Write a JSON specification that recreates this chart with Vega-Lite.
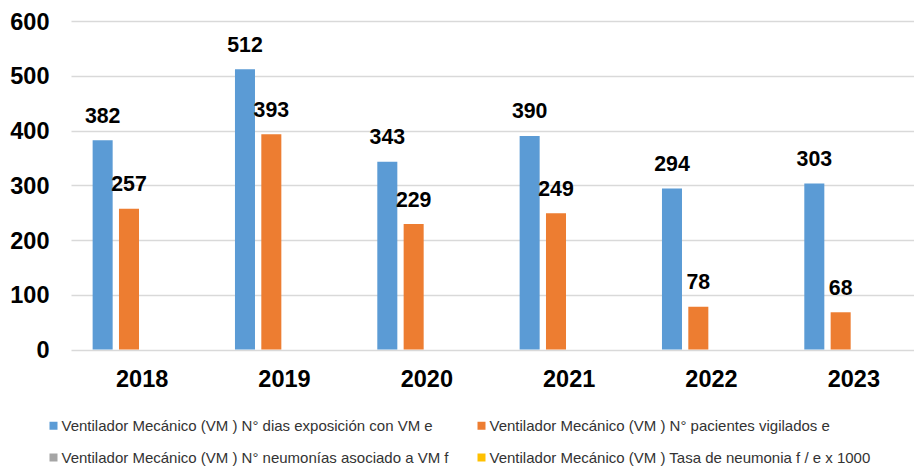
{
  "$schema": "https://vega.github.io/schema/vega-lite/v6.json",
  "autosize": {"type": "none"},
  "padding": {"left": 71, "top": 21, "right": 0, "bottom": 120.5},
  "width": 843,
  "height": 328.5,
  "config": {
    "view": {"stroke": null},
    "font": "Liberation Sans",
    "text": {"font": "Liberation Sans"}
  },
  "data": {
    "values": [
      {"anio": "2018", "serie": "Ventilador Mecánico (VM ) N° dias exposición con VM e", "valor": 382},
      {"anio": "2018", "serie": "Ventilador Mecánico (VM ) N° pacientes vigilados e", "valor": 257},
      {"anio": "2018", "serie": "Ventilador Mecánico (VM ) N° neumonías asociado a VM f", "valor": 0},
      {"anio": "2018", "serie": "Ventilador Mecánico (VM ) Tasa de neumonia f / e x 1000", "valor": 0},
      {"anio": "2019", "serie": "Ventilador Mecánico (VM ) N° dias exposición con VM e", "valor": 512},
      {"anio": "2019", "serie": "Ventilador Mecánico (VM ) N° pacientes vigilados e", "valor": 393},
      {"anio": "2019", "serie": "Ventilador Mecánico (VM ) N° neumonías asociado a VM f", "valor": 0},
      {"anio": "2019", "serie": "Ventilador Mecánico (VM ) Tasa de neumonia f / e x 1000", "valor": 0},
      {"anio": "2020", "serie": "Ventilador Mecánico (VM ) N° dias exposición con VM e", "valor": 343},
      {"anio": "2020", "serie": "Ventilador Mecánico (VM ) N° pacientes vigilados e", "valor": 229},
      {"anio": "2020", "serie": "Ventilador Mecánico (VM ) N° neumonías asociado a VM f", "valor": 0},
      {"anio": "2020", "serie": "Ventilador Mecánico (VM ) Tasa de neumonia f / e x 1000", "valor": 0},
      {"anio": "2021", "serie": "Ventilador Mecánico (VM ) N° dias exposición con VM e", "valor": 390},
      {"anio": "2021", "serie": "Ventilador Mecánico (VM ) N° pacientes vigilados e", "valor": 249},
      {"anio": "2021", "serie": "Ventilador Mecánico (VM ) N° neumonías asociado a VM f", "valor": 0},
      {"anio": "2021", "serie": "Ventilador Mecánico (VM ) Tasa de neumonia f / e x 1000", "valor": 0},
      {"anio": "2022", "serie": "Ventilador Mecánico (VM ) N° dias exposición con VM e", "valor": 294},
      {"anio": "2022", "serie": "Ventilador Mecánico (VM ) N° pacientes vigilados e", "valor": 78},
      {"anio": "2022", "serie": "Ventilador Mecánico (VM ) N° neumonías asociado a VM f", "valor": 0},
      {"anio": "2022", "serie": "Ventilador Mecánico (VM ) Tasa de neumonia f / e x 1000", "valor": 0},
      {"anio": "2023", "serie": "Ventilador Mecánico (VM ) N° dias exposición con VM e", "valor": 303},
      {"anio": "2023", "serie": "Ventilador Mecánico (VM ) N° pacientes vigilados e", "valor": 68},
      {"anio": "2023", "serie": "Ventilador Mecánico (VM ) N° neumonías asociado a VM f", "valor": 0},
      {"anio": "2023", "serie": "Ventilador Mecánico (VM ) Tasa de neumonia f / e x 1000", "valor": 0}
    ]
  },
  "encoding": {
    "x": {
      "field": "anio", "type": "nominal", "title": null,
      "scale": {"range": [0, 854], "paddingInner": 0.304, "paddingOuter": 0.152},
      "axis": {
        "labelAngle": 0, "domain": false, "ticks": false, "tickSize": 0,
        "labelFont": "Liberation Sans", "labelFontSize": 23.5, "labelFontWeight": "bold",
        "labelColor": "#000000", "labelPadding": 18, "grid": false
      }
    },
    "xOffset": {
      "field": "serie", "type": "nominal",
      "sort": [
        "Ventilador Mecánico (VM ) N° dias exposición con VM e",
        "Ventilador Mecánico (VM ) N° pacientes vigilados e",
        "Ventilador Mecánico (VM ) N° neumonías asociado a VM f",
        "Ventilador Mecánico (VM ) Tasa de neumonia f / e x 1000"
      ],
      "scale": {"paddingInner": 0.24, "paddingOuter": 0}
    },
    "y": {
      "field": "valor", "type": "quantitative", "title": null,
      "scale": {"domain": [0, 600], "nice": false},
      "axis": {
        "values": [0, 100, 200, 300, 400, 500, 600],
        "domain": false, "ticks": false, "tickSize": 0,
        "labelFont": "Liberation Sans", "labelFontSize": 23.5, "labelFontWeight": "bold",
        "labelColor": "#000000", "labelPadding": 22, "labelOffset": 1,
        "gridColor": "#d9d9d9", "gridWidth": 1.5
      }
    }
  },
  "layer": [
    {
      "mark": {"type": "bar"},
      "encoding": {
        "color": {
          "field": "serie", "type": "nominal",
          "scale": {
            "domain": [
              "Ventilador Mecánico (VM ) N° dias exposición con VM e",
              "Ventilador Mecánico (VM ) N° pacientes vigilados e",
              "Ventilador Mecánico (VM ) N° neumonías asociado a VM f",
              "Ventilador Mecánico (VM ) Tasa de neumonia f / e x 1000"
            ],
            "range": ["#5B9BD5", "#ED7D31", "#A5A5A5", "#FFC000"]
          },
          "legend": {
            "title": null, "orient": "none", "legendX": -25, "legendY": 397,
            "direction": "horizontal", "columns": 2, "columnPadding": 25, "rowPadding": 16,
            "symbolType": "square", "symbolSize": 64, "symbolStrokeWidth": 0,
            "labelFont": "Liberation Sans", "labelFontSize": 15, "labelColor": "#333333",
            "labelOffset": 0.5, "labelLimit": 600, "padding": 0
          }
        }
      }
    },
    {
      "transform": [{"filter": "datum.valor > 0"}],
      "mark": {
        "type": "text", "baseline": "alphabetic", "align": "center", "dy": -17.5,
        "font": "Liberation Sans", "fontSize": 21.3, "fontWeight": "bold", "color": "#000000"
      },
      "encoding": {
        "text": {"field": "valor", "type": "quantitative"}
      }
    }
  ]
}
